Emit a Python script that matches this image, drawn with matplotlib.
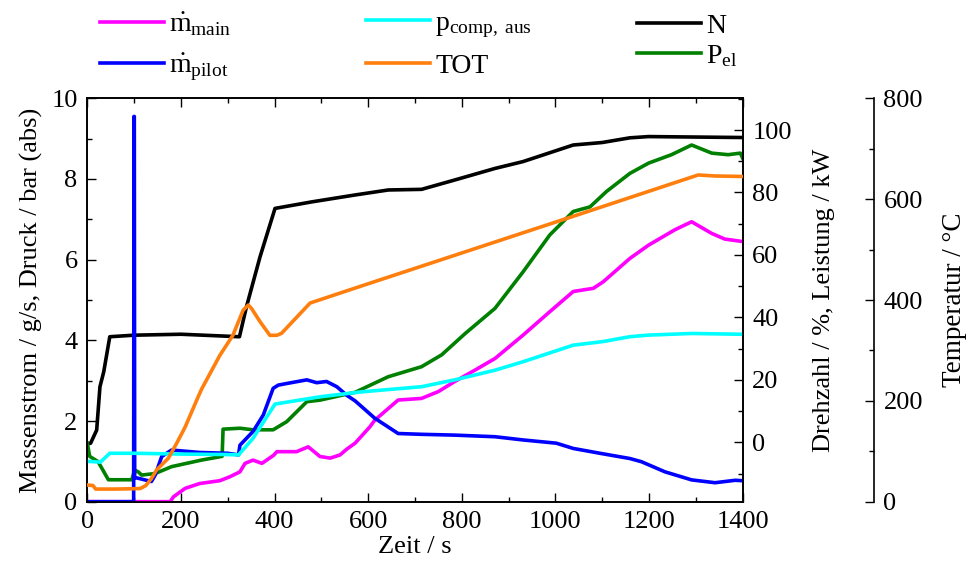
import matplotlib
matplotlib.use('Agg')
import matplotlib.pyplot as plt
from matplotlib.ticker import MultipleLocator

plt.rcParams['font.family'] = ['Liberation Serif', 'DejaVu Serif']
plt.rcParams['mathtext.fontset'] = 'custom'
plt.rcParams['mathtext.rm'] = 'Liberation Serif'
plt.rcParams['mathtext.it'] = 'Liberation Serif:italic'
plt.rcParams['mathtext.bf'] = 'Liberation Serif:bold'
plt.rcParams['font.size'] = 19

# ---------------- data ----------------
# main fuel mass flow [g/s]
mmain_t = [0, 177, 184, 209, 240, 283, 305, 326, 337, 354, 373, 398, 405, 447, 472,
           497, 519, 540, 554, 572, 604, 614, 664, 714, 750, 785, 828, 871, 931, 988,
           1038, 1081, 1102, 1159, 1199, 1255, 1291, 1334, 1362, 1400]
mmain_v = [0, 0, 0.12, 0.33, 0.45, 0.52, 0.62, 0.74, 0.95, 1.03, 0.95, 1.15, 1.24, 1.24, 1.36,
           1.12, 1.08, 1.16, 1.3, 1.45, 1.86, 2.02, 2.52, 2.56, 2.73, 2.98, 3.26, 3.55, 4.13, 4.71,
           5.21, 5.29, 5.45, 6.03, 6.36, 6.74, 6.94, 6.65, 6.51, 6.45]

# pilot fuel mass flow [g/s]
mpilot_t = [0, 99, 99.6, 100.4, 101.2, 109, 137, 145, 159, 180, 240, 300, 323, 326, 354,
            376, 397, 408, 426, 469, 490, 511, 533, 554, 572, 614, 664, 714, 785, 871,
            931, 1002, 1038, 1095, 1159, 1184, 1234, 1291, 1341, 1384, 1400]
mpilot_v = [0, 0, 9.55, 9.55, 0.6, 0.58, 0.5, 0.66, 1.12, 1.28, 1.22, 1.2, 1.16, 1.4, 1.74,
            2.15, 2.81, 2.89, 2.93, 3.02, 2.95, 2.98, 2.85, 2.64, 2.5, 2.07, 1.69, 1.67, 1.65, 1.61,
            1.53, 1.45, 1.32, 1.2, 1.07, 0.99, 0.74, 0.54, 0.47, 0.53, 0.52]

# compressor outlet pressure [bar abs]
pcomp_t = [0, 15, 28, 48, 100, 200, 294, 323, 354, 401, 497, 583, 714, 785, 871, 931,
           1038, 1102, 1159, 1199, 1291, 1400]
pcomp_v = [1.0, 0.99, 0.98, 1.2, 1.2, 1.18, 1.17, 1.16, 1.57, 2.42, 2.6, 2.72, 2.85, 3.02, 3.26, 3.47,
           3.88, 3.97, 4.09, 4.13, 4.17, 4.15]

# turbine outlet temperature [°C]
tot_t = [0, 12, 18, 60, 113, 125, 137, 148, 173, 191, 209, 234, 244, 283, 311, 333, 344,
         351, 369, 390, 405, 415, 476, 583, 871, 1038, 1305, 1340, 1400]
tot_v = [33, 32, 25, 25, 26, 32, 46, 63, 86, 116, 148, 202, 223, 290, 330, 380, 390,
         383, 357, 330, 330, 334, 394, 427, 515, 566, 648, 646, 645]

# speed [%]
n_t = [0, 7, 20, 27, 35, 48, 100, 200, 325, 340, 369, 401, 480, 572, 643, 714, 785,
       871, 931, 1038, 1100, 1159, 1199, 1400]
n_v = [-0.5, -0.3, 3.9, 17.8, 22.5, 33.8, 34.3, 34.6, 33.8, 43.4, 59.4, 74.9, 77.0, 79.2, 80.8, 81.0, 84.0,
       87.7, 89.9, 95.2, 96.0, 97.5, 97.9, 97.6]

# electrical power [kW]
pel_t = [0, 5, 23, 45, 95, 99, 100, 109, 116, 145, 180, 244, 288, 290, 326, 354, 397, 426,
         469, 497, 572, 643, 714, 757, 807, 871, 931, 988, 1038, 1074, 1109, 1159, 1199,
         1248, 1291, 1334, 1369, 1395, 1400]
pel_v = [-0.3, -4.5, -6.2, -12.0, -12.0, -10.0, -8.8, -9.5, -10.5, -10.0, -7.8, -5.7, -4.5, 4.2, 4.5, 4.0, 4.0, 6.6,
         13.0, 13.5, 16.0, 21.0, 24.2, 28.0, 34.8, 42.9, 54.6, 66.4, 73.9, 75.4, 80.3, 86.1, 89.4,
         92.1, 95.2, 92.6, 92.1, 92.6, 91.0]

labels = [r'$\dot{\mathrm{m}}_\mathrm{main}$', r'$\dot{\mathrm{m}}_\mathrm{pilot}$',
          r'$\mathrm{p}_\mathrm{comp,\ aus}$', 'TOT', 'N', r'$\mathrm{P}_\mathrm{el}$']

# ---------------- figure ----------------
fig = plt.figure(figsize=(9.68, 5.74), dpi=100)
rect = [0.0902, 0.126, 0.677, 0.7027]
ax = fig.add_axes(rect)
axN = ax.twinx()
axT = ax.twinx()

axN.set_zorder(1)
ax.set_zorder(2)
axT.set_zorder(3)
for a in (ax, axN, axT):
    a.patch.set_visible(False)

lw = 2.6
l_main, = ax.plot(mmain_t, mmain_v, color='#ff00ff', lw=lw)
l_pilot, = ax.plot(mpilot_t, mpilot_v, color='#0000ff', lw=lw)
l_p, = ax.plot(pcomp_t, pcomp_v, color='#00ffff', lw=lw)
l_tot, = axT.plot(tot_t, tot_v, color='#ff7f0e', lw=lw)
l_n, = axN.plot(n_t, n_v, color='black', lw=lw)
l_pel, = axN.plot(pel_t, pel_v, color='#008000', lw=lw)

ax.set_xlim(0, 1400)
ax.set_ylim(0, 10)
axN.set_ylim(-19.02, 110.15)
axT.set_ylim(0, 800)

ax.xaxis.set_major_locator(MultipleLocator(200))
ax.xaxis.set_minor_locator(MultipleLocator(100))
ax.yaxis.set_major_locator(MultipleLocator(2))
ax.yaxis.set_minor_locator(MultipleLocator(1))
axN.yaxis.set_major_locator(MultipleLocator(20))
axN.yaxis.set_minor_locator(MultipleLocator(10))
axT.yaxis.set_major_locator(MultipleLocator(200))
axT.yaxis.set_minor_locator(MultipleLocator(100))

axT.spines['right'].set_position(('axes', 1.2))
for s in ('top', 'left', 'bottom'):
    axT.spines[s].set_visible(False)

for a in (ax, axN, axT):
    for s in a.spines.values():
        s.set_linewidth(1.2)

ax.tick_params(axis='x', which='both', direction='in', top=True, bottom=True, pad=7)
ax.tick_params(axis='y', which='both', direction='in', left=True, right=False, pad=7)
for a in (ax, axN, axT):
    a.tick_params(which='major', length=6.5, width=1.0, labelsize=19)
    a.tick_params(which='minor', length=3.5, width=1.0)
axN.tick_params(axis='y', which='both', direction='in', pad=7)
axT.tick_params(axis='y', which='both', direction='in', pad=7)

ax.set_xlabel('Zeit / s', labelpad=2)
ax.set_ylabel('Massenstrom / g/s, Druck / bar (abs)', labelpad=6)
axN.set_ylabel('Drehzahl / %, Leistung / kW', labelpad=15)
axT.set_ylabel('Temperatur / °C', labelpad=14, fontsize=19.5)

common = dict(loc='upper left', frameon=False, handlelength=2.3, handletextpad=0.2,
              borderpad=0, borderaxespad=0, fontsize=20)
fig.legend([l_main, l_pilot], labels[0:2], bbox_to_anchor=(0.1033, 0.982), **common)
fig.legend([l_p, l_tot], labels[2:4], bbox_to_anchor=(0.378, 0.982), **common)
fig.legend([l_n, l_pel], labels[4:6], bbox_to_anchor=(0.658, 0.977),
           labelspacing=0.15, **common)

fig.savefig('out.png', dpi=100)
